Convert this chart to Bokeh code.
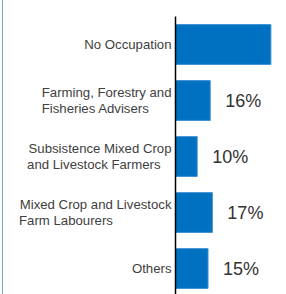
from bokeh.plotting import figure
from bokeh.models import Range1d, FixedTicker, ColumnDataSource, GlobalInlineStyleSheet
from bokeh.embed import file_html
from bokeh.resources import INLINE

NB = "\u00a0"
categories = [
    "No Occupation",
    "Farming, Forestry and\nFisheries Advisers" + NB * 6,
    "Subsistence Mixed Crop\nand Livestock Farmers" + NB * 3,
    "Mixed Crop and Livestock\nFarm Labourers" + NB * 16,
    "Others",
]
values = [44, 16, 10, 17, 15]
value_labels = ["44%", "16%", "10%", "17%", "15%"]

pos = list(range(len(categories)))
src = ColumnDataSource(dict(y=pos, v=values, lab=value_labels))

css = GlobalInlineStyleSheet(css="body{margin:0 0 0 2px;padding:0;border-left:1px solid #6fa8dc;overflow:hidden;}")

p = figure(width=283, height=294, output_backend="svg", toolbar_location=None,
           x_range=Range1d(0, 51.2), y_range=Range1d(4.464, -0.5),
           min_border_left=172, min_border_right=0, min_border_top=16, min_border_bottom=0,
           stylesheets=[css])
p.outline_line_color = None
p.grid.visible = False
p.xaxis.visible = False
p.background_fill_color = "white"
p.border_fill_color = "white"

p.hbar(y="y", right="v", left=0, height=0.71, source=src,
       fill_color="#0070C0", line_color="#3b8fd4", line_width=1)
p.text(x="v", y="y", text="lab", source=src, x_offset=15,
       text_align="left", text_baseline="middle", text_font_size="18px",
       text_font={"value": "Liberation Sans"}, text_color="#333333")

ax = p.yaxis[0]
ax.ticker = FixedTicker(ticks=pos)
ax.major_label_overrides = {i: c for i, c in zip(pos, categories)}
ax.major_tick_out = 0
ax.major_tick_in = 0
ax.minor_tick_out = 0
ax.minor_tick_in = 0
ax.axis_line_color = "black"
ax.axis_line_width = 1.5
ax.major_label_standoff = 4
ax.major_label_text_font = "Liberation Sans"
ax.major_label_text_font_size = "13.2px"
ax.major_label_text_color = "#404040"
ax.major_label_text_align = "right"
ax.major_label_text_line_height = 1.1

open("out.html", "w").write(file_html(p, INLINE))
